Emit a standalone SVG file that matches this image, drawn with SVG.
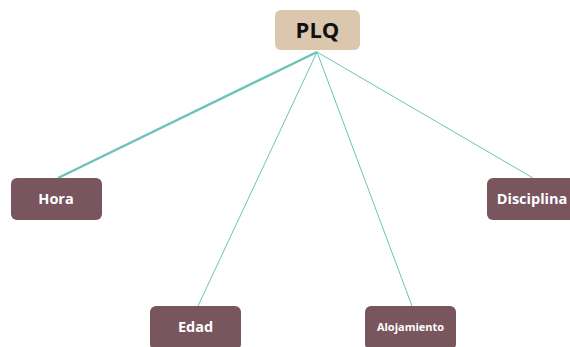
<svg xmlns="http://www.w3.org/2000/svg" width="570" height="347" viewBox="0 0 570 347">
<style>
.n rect{fill:#79555e;}
.n text{fill:#ffffff;font-family:"Open Sans","DejaVu Sans",sans-serif;font-weight:bold;font-size:14.5px;text-anchor:middle;}
.c line{stroke:#6cc4b8;stroke-width:1;}
</style>
<rect width="570" height="347" fill="#ffffff"/>
<g id="connectors" class="c">
<line x1="317" y1="52" x2="58" y2="178" style="stroke-width:2.5"/>
<line x1="317" y1="52" x2="198" y2="306"/>
<line x1="317" y1="52" x2="412" y2="306"/>
<line x1="317" y1="52" x2="533" y2="178"/>
</g>
<g id="PLQ">
<rect x="275" y="10" width="85" height="40" rx="6" fill="#dbc6ae"/>
<text x="317.5" y="38" font-family="'Open Sans','DejaVu Sans',sans-serif" font-weight="bold" font-size="22" text-anchor="middle" fill="#111111">PLQ</text>
</g>
<g id="Hora" class="n">
<rect x="11" y="178" width="91" height="42" rx="6"/>
<text x="56" y="204">Hora</text>
</g>
<g id="Disciplina" class="n">
<rect x="487" y="178" width="91" height="42" rx="6"/>
<text x="532" y="204">Disciplina</text>
</g>
<g id="Edad" class="n">
<rect x="150" y="306" width="91" height="44" rx="6"/>
<text x="195.5" y="332">Edad</text>
</g>
<g id="Alojamiento" class="n">
<rect x="365" y="306" width="91" height="44" rx="6"/>
<text x="410.5" y="331" style="font-size:11px">Alojamiento</text>
</g>
</svg>
